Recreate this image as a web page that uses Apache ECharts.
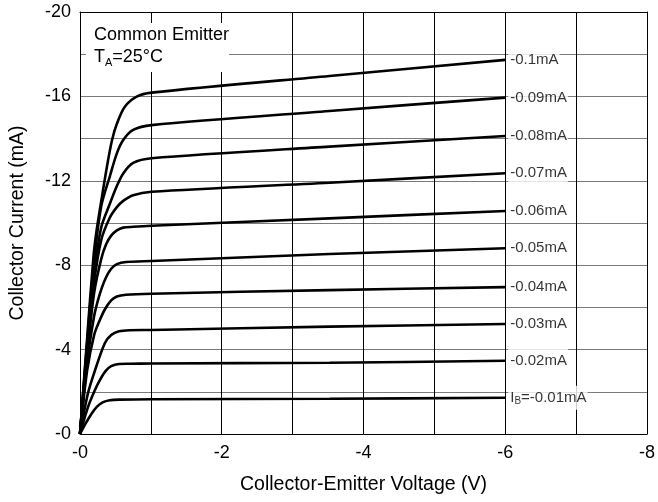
<!DOCTYPE html>
<html>
<head>
<meta charset="utf-8">
<script src="https://cdn.jsdelivr.net/npm/echarts@6/dist/echarts.min.js"></script>
<style>
  html, body { margin: 0; padding: 0; background: #fff; }
  #chart { width: 658px; height: 502px; }
</style>
</head>
<body>
<div id="chart"></div>
<script>
// Output characteristics of a PNP transistor, common emitter, TA = 25 °C.
// Each curve: collector-emitter voltage (V) and collector current (mA) for one base current.
const vIb010 = [0, -0.1, -0.19, -0.235, -0.31, -0.38, -0.45, -0.52, -0.63, -0.8, -1.01, -3.52, -6];
const iIb010 = [0, -4.5, -8.4, -9.67, -11.25, -12.67, -13.9, -14.7, -15.5, -15.99, -16.18, -16.97, -17.73];

const vIb009 = [0, -0.1, -0.2, -0.3, -0.42, -0.52, -0.61, -0.75, -1.01, -3.52, -6];
const iIb009 = [0, -4.3, -8.2, -10.8, -12.2, -13.3, -13.93, -14.41, -14.64, -15.31, -15.94];

const vIb008 = [0, -0.1, -0.2, -0.3, -0.42, -0.52, -0.61, -0.75, -1.01, -3.52, -6];
const iIb008 = [0, -4.1, -7.6, -9.8, -10.9, -11.75, -12.35, -12.85, -13.07, -13.62, -14.12];

const vIb007 = [0, -0.1, -0.2, -0.3, -0.42, -0.52, -0.61, -0.75, -1.01, -3.52, -6];
const iIb007 = [0, -3.9, -7.2, -9.2, -10.25, -10.75, -11.05, -11.32, -11.48, -11.91, -12.36];

const vIb006 = [0, -0.1, -0.2, -0.3, -0.37, -0.44, -0.52, -0.61, -0.75, -1.01, -3.52, -6];
const iIb006 = [0, -3.7, -6.7, -8.3, -9.0, -9.4, -9.65, -9.78, -9.82, -9.87, -10.22, -10.57];

const vIb005 = [0, -0.1, -0.2, -0.25, -0.31, -0.37, -0.44, -0.52, -0.65, -1.01, -3.52, -6];
const iIb005 = [0, -3.4, -5.6, -6.3, -6.95, -7.44, -7.83, -8.05, -8.15, -8.2, -8.53, -8.8];

const vIb004 = [0, -0.1, -0.2, -0.28, -0.35, -0.44, -0.52, -0.65, -1.01, -3.52, -6];
const iIb004 = [0, -3.0, -4.7, -5.4, -5.9, -6.33, -6.52, -6.6, -6.65, -6.82, -6.96];

const vIb003 = [0, -0.11, -0.21, -0.35, -0.44, -0.55, -0.7, -1.01, -3.52, -6];
const iIb003 = [0, -1.9, -3.0, -4.3, -4.69, -4.87, -4.92, -4.93, -5.09, -5.21];

const vIb002 = [0, -0.11, -0.2, -0.28, -0.36, -0.44, -0.55, -0.7, -1.01, -3.52, -6];
const iIb002 = [0, -1.25, -2.0, -2.55, -2.98, -3.22, -3.32, -3.33, -3.34, -3.38, -3.47];

const vIb001 = [0, -0.08, -0.16, -0.24, -0.32, -0.42, -0.55, -1.01, -3.52, -6];
const iIb001 = [0, -0.5, -0.95, -1.3, -1.5, -1.6, -1.63, -1.65, -1.67, -1.72];

const curveLabels = ['-0.1mA', '-0.09mA', '-0.08mA', '-0.07mA', '-0.06mA',
                     '-0.05mA', '-0.04mA', '-0.03mA', '-0.02mA', '{n|I}{s|B}{n|=-0.01mA}'];
const curveV = [vIb010, vIb009, vIb008, vIb007, vIb006, vIb005, vIb004, vIb003, vIb002, vIb001];
const curveI = [iIb010, iIb009, iIb008, iIb007, iIb006, iIb005, iIb004, iIb003, iIb002, iIb001];

const xTicks = [0, -2, -4, -6, -8];
const yTicks = [0, -4, -8, -12, -16, -20];

const FONT = '"Liberation Sans", Arial, Helvetica, sans-serif';

const lineSeries = curveV.map((vs, k) => ({
  type: 'line',
  data: vs.map((v, j) => [v, curveI[k][j]]),
  smooth: 0.3,
  showSymbol: false,
  symbol: 'none',
  lineStyle: { color: '#000', width: 2.6 },
  z: 3,
  silent: true
}));

// labels placed just right of each curve's end point
const labelSeries = {
  type: 'scatter',
  symbolSize: 0,
  silent: true,
  z: 5,
  data: curveV.map((vs, k) => ({
    value: [vs[vs.length - 1], curveI[k][curveI[k].length - 1]],
    name: curveLabels[k]
  })),
  label: {
    show: true,
    position: 'right',
    distance: 3,
    formatter: p => p.name,
    color: '#000',
    fontFamily: FONT,
    fontSize: 15,
    lineHeight: 18,
    backgroundColor: '#fff',
    padding: [3, 1, 3, 2],
    rich: {
      n: { fontFamily: FONT, fontSize: 15, lineHeight: 18, color: '#000' },
      s: { fontFamily: FONT, fontSize: 10, lineHeight: 10, verticalAlign: 'bottom', color: '#000' }
    }
  }
};

const chart = echarts.init(document.getElementById('chart'), null, { renderer: 'canvas' });

chart.setOption({
  animation: false,
  backgroundColor: '#fff',
  title: {
    text: 'Common Emitter\n{n|T}{s|A}{n|=25°C}',
    left: 86,
    top: 23,
    padding: [1, 0, 4, 8],
    backgroundColor: '#fff',
    textStyle: {
      fontFamily: FONT,
      fontSize: 18,
      fontWeight: 'normal',
      lineHeight: 22,
      color: '#000',
      rich: {
        n: { fontFamily: FONT, fontSize: 18, lineHeight: 22, color: '#000' },
        s: { fontFamily: FONT, fontSize: 11, lineHeight: 11, verticalAlign: 'bottom', color: '#000' }
      }
    }
  },
  grid: { left: 80, right: 10, top: 12, bottom: 68, containLabel: false },
  xAxis: [{
    type: 'value',
    min: -8, max: 0, interval: 1,
    inverse: true,
    name: 'Collector-Emitter Voltage (V)',
    nameLocation: 'middle',
    nameGap: 41,
    nameTextStyle: { fontFamily: FONT, fontSize: 19.5, color: '#000' },
    axisLine: { show: true, onZero: false, lineStyle: { color: '#000', width: 1 } },
    axisTick: { show: false },
    axisLabel: {
      margin: 10,
      fontFamily: FONT, fontSize: 18, color: '#000',
      formatter: v => xTicks.includes(v) ? (v === 0 ? '-0' : String(v)) : ''
    },
    splitLine: { show: true, lineStyle: { color: '#000', width: 1 } }
  }, {
    // top border of the plotting area
    type: 'value', position: 'top', min: -8, max: 0, inverse: true, z: 4,
    axisLine: { show: true, onZero: false, lineStyle: { color: '#000', width: 1 } },
    axisTick: { show: false }, axisLabel: { show: false }, splitLine: { show: false }
  }],
  yAxis: [{
    type: 'value',
    min: -20, max: 0, interval: 2,
    inverse: true,
    name: 'Collector Current (mA)',
    nameLocation: 'middle',
    nameGap: 52,
    nameTextStyle: { fontFamily: FONT, fontSize: 19.5, color: '#000' },
    axisLine: { show: true, onZero: false, lineStyle: { color: '#000', width: 1 } },
    axisTick: { show: false },
    axisLabel: {
      margin: 9,
      fontFamily: FONT, fontSize: 18, color: '#000',
      formatter: v => yTicks.includes(v) ? (v === 0 ? '-0' : String(v)) : ''
    },
    splitLine: { show: true, lineStyle: { color: '#7a7a7a', width: 1 } }
  }, {
    // right border of the plotting area
    type: 'value', position: 'right', min: -20, max: 0, inverse: true, z: 4,
    axisLine: { show: true, onZero: false, lineStyle: { color: '#000', width: 1 } },
    axisTick: { show: false }, axisLabel: { show: false }, splitLine: { show: false }
  }],
  series: lineSeries.concat([labelSeries])
});
</script>
</body>
</html>
